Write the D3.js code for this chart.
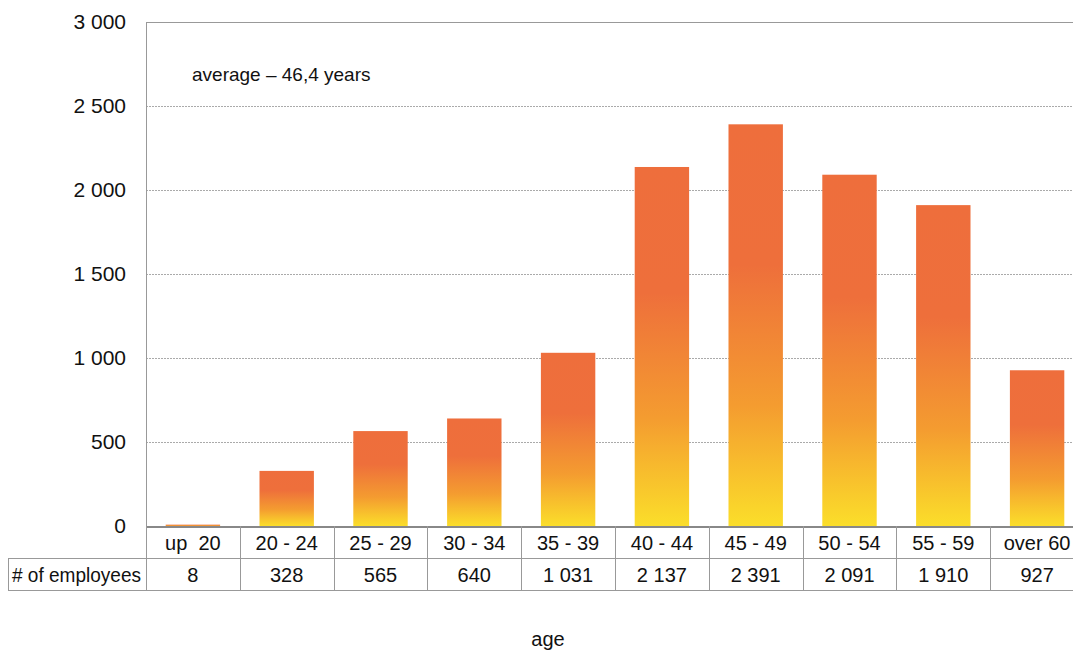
<!DOCTYPE html>
<html>
<head>
<meta charset="utf-8">
<script src="https://cdn.jsdelivr.net/npm/d3@7"></script>
<style>
  body { margin: 0; background: #fff; }
  svg text { font-family: "Liberation Sans Narrow", "Liberation Sans", "DejaVu Sans", sans-serif; font-stretch: condensed; fill: #111; }
</style>
</head>
<body>
<div id="chart"></div>
<script>
// age groups and headcount
var ageGroups = ["up  20", "20 - 24", "25 - 29", "30 - 34", "35 - 39", "40 - 44", "45 - 49", "50 - 54", "55 - 59", "over 60"];
var employees = [8, 328, 565, 640, 1031, 2137, 2391, 2091, 1910, 927];
var yTicks = [0, 500, 1000, 1500, 2000, 2500, 3000];
var rowLabel = "# of employees";
var note = "average \u2013 46,4 years";
var axisTitle = "age";

var totalWidth = 1073, totalHeight = 651;
var plotLeft = 146, plotTop = 22, plotBottom = 526, rowH = 32;

var fmt = function(v) { return d3.format(",")(v).replace(/,/g, " "); };

var svg = d3.select("#chart").append("svg")
    .attr("width", totalWidth)
    .attr("height", totalHeight);

var x = d3.scaleBand()
    .domain(ageGroups)
    .range([plotLeft, plotLeft + 938])
    .paddingInner(0.42)
    .paddingOuter(0.21);

var y = d3.scaleLinear()
    .domain([0, 3000])
    .range([plotBottom, plotTop]);

// gradient for bars
var grad = svg.append("defs").append("linearGradient")
    .attr("id", "barGrad")
    .attr("x1", 0).attr("y1", 0).attr("x2", 0).attr("y2", 1);
grad.append("stop").attr("offset", "0%").attr("stop-color", "#ee6e3c");
grad.append("stop").attr("offset", "35%").attr("stop-color", "#ee6f3b");
grad.append("stop").attr("offset", "70%").attr("stop-color", "#f49c30");
grad.append("stop").attr("offset", "100%").attr("stop-color", "#fbde2a");

// gridlines
svg.append("g").selectAll("line")
    .data(yTicks.filter(function(d) { return d > 0 && d < 3000; }))
    .enter().append("line")
    .attr("x1", plotLeft).attr("x2", totalWidth)
    .attr("y1", function(d) { return y(d) + 0.5; })
    .attr("y2", function(d) { return y(d) + 0.5; })
    .attr("stroke", "#aaa")
    .attr("stroke-dasharray", "2,1");

svg.append("line")
    .attr("x1", plotLeft).attr("x2", totalWidth)
    .attr("y1", y(3000) + 0.5).attr("y2", y(3000) + 0.5)
    .attr("stroke", "#999");

// y axis
var yAxis = svg.append("g")
    .attr("transform", "translate(" + (plotLeft - 20) + ",0)")
    .call(d3.axisLeft(y).tickValues(yTicks).tickSize(0).tickFormat(fmt));
yAxis.select(".domain").remove();
yAxis.selectAll("text")
    .attr("x", 0)
    .attr("font-size", 21)
    .attr("font-family", null);

svg.append("line")
    .attr("x1", plotLeft + 0.5).attr("x2", plotLeft + 0.5)
    .attr("y1", plotTop).attr("y2", plotBottom)
    .attr("stroke", "#999");

// bars
svg.append("g").selectAll("rect")
    .data(employees)
    .enter().append("rect")
    .attr("x", function(d, i) { return x(ageGroups[i]); })
    .attr("y", function(d) { return y(d); })
    .attr("width", x.bandwidth())
    .attr("height", function(d) { return Math.max(1, plotBottom - y(d)); })
    .attr("fill", "url(#barGrad)");

// table under the axis
var step = x.step();
var bands = ageGroups.map(function(g) { return x(g) - (step - x.bandwidth()) / 2; });

var table = svg.append("g").attr("stroke", "#999").attr("fill", "none");
table.append("line")
    .attr("x1", plotLeft).attr("x2", totalWidth)
    .attr("y1", plotBottom + 1).attr("y2", plotBottom + 1)
    .attr("stroke", "#888").attr("stroke-width", 2);
table.append("line")
    .attr("x1", 8).attr("x2", totalWidth)
    .attr("y1", plotBottom + rowH + 0.5).attr("y2", plotBottom + rowH + 0.5);
table.append("line")
    .attr("x1", 8).attr("x2", totalWidth)
    .attr("y1", plotBottom + 2 * rowH + 0.5).attr("y2", plotBottom + 2 * rowH + 0.5);
table.append("line")
    .attr("x1", 8.5).attr("x2", 8.5)
    .attr("y1", plotBottom + rowH).attr("y2", plotBottom + 2 * rowH);
table.selectAll(".sep")
    .data(bands.concat([bands[bands.length - 1] + step]))
    .enter().append("line")
    .attr("class", "sep")
    .attr("x1", function(d) { return Math.round(d) + 0.5; })
    .attr("x2", function(d) { return Math.round(d) + 0.5; })
    .attr("y1", plotBottom)
    .attr("y2", plotBottom + 2 * rowH);

svg.append("g").selectAll("text")
    .data(ageGroups)
    .enter().append("text")
    .attr("x", function(d) { return x(d) + x.bandwidth() / 2; })
    .attr("y", plotBottom + 24)
    .attr("text-anchor", "middle")
    .attr("font-size", 20)
    .style("white-space", "pre")
    .text(function(d) { return d; });

svg.append("g").selectAll("text")
    .data(employees)
    .enter().append("text")
    .attr("x", function(d, i) { return x(ageGroups[i]) + x.bandwidth() / 2; })
    .attr("y", plotBottom + rowH + 24)
    .attr("text-anchor", "middle")
    .attr("font-size", 20)
    .text(fmt);

svg.append("text")
    .attr("x", 12)
    .attr("y", plotBottom + rowH + 24)
    .attr("font-size", 20)
    .attr("textLength", 129)
    .attr("lengthAdjust", "spacingAndGlyphs")
    .text(rowLabel);

svg.append("text")
    .attr("x", 192)
    .attr("y", 81)
    .attr("font-size", 19)
    .text(note);

svg.append("text")
    .attr("x", 548)
    .attr("y", 646)
    .attr("text-anchor", "middle")
    .attr("font-size", 20)
    .text(axisTitle);
</script>
</body>
</html>
